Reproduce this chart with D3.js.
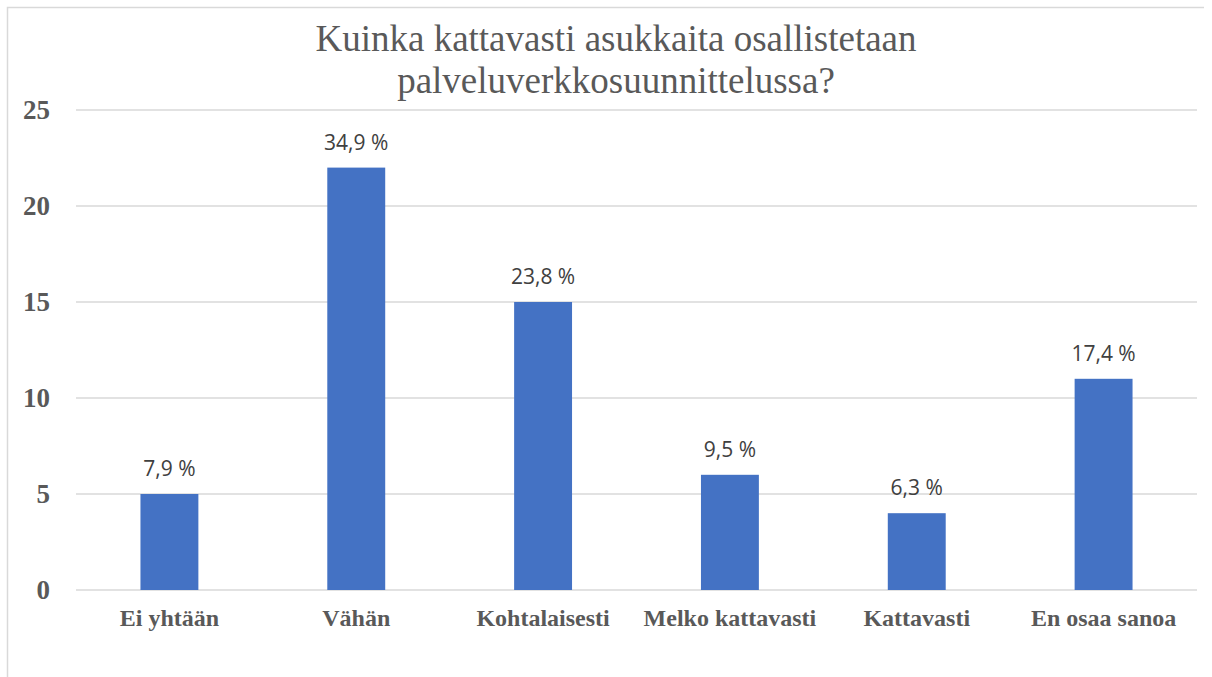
<!DOCTYPE html>
<html><head><meta charset="utf-8">
<script src="https://cdn.jsdelivr.net/npm/d3@7"></script>
<style>body{margin:0;background:#fff}svg{display:block}</style>
</head><body>
<script>
const categories = ["Ei yhtään","Vähän","Kohtalaisesti","Melko kattavasti","Kattavasti","En osaa sanoa"];
const values = [5,22,15,6,4,11];
const percentLabels = ["7,9 %","34,9 %","23,8 %","9,5 %","6,3 %","17,4 %"];
const yTicks = [0,5,10,15,20,25];
const titleLines = ["Kuinka kattavasti asukkaita osallistetaan","palveluverkkosuunnittelussa?"];

const W=1212,H=677;
const m={left:76,right:15,top:110,bottom:87};
const svg=d3.select("body").append("svg").attr("width",W).attr("height",H);

// frame
svg.append("path").attr("d","M7.5,677 V7.5 H1204").attr("fill","none").attr("stroke","#d9d9d9").attr("stroke-width",1.5);

const x=d3.scaleBand().domain(categories).range([m.left,W-m.right]).paddingInner(0.69).paddingOuter(0.345);
const y=d3.scaleLinear().domain([0,25]).range([H-m.bottom,m.top]);

// gridlines
svg.append("g").selectAll("line").data(yTicks).join("line")
 .attr("x1",m.left).attr("x2",W-m.right)
 .attr("y1",d=>y(d)).attr("y2",d=>y(d))
 .attr("stroke","#d9d9d9").attr("stroke-width",1.5);

// y labels
const yAxis=svg.append("g").attr("transform",`translate(${m.left-26},0)`)
 .call(d3.axisLeft(y).tickValues(yTicks).tickSize(0).tickPadding(0));
yAxis.select(".domain").remove();
yAxis.selectAll("text").attr("font-family","'Liberation Serif',serif").attr("font-weight","bold")
 .attr("font-size",27).attr("fill","#595959").attr("dy","0.33em");

// bars
svg.append("g").selectAll("rect").data(values).join("rect")
 .attr("x",(d,i)=>x(categories[i])).attr("width",x.bandwidth())
 .attr("y",d=>y(d)).attr("height",d=>y(0)-y(d)).attr("fill","#4472c4");

// data labels
svg.append("g").selectAll("text").data(values).join("text")
 .attr("x",(d,i)=>x(categories[i])+x.bandwidth()/2).attr("y",d=>y(d)-18)
 .attr("text-anchor","middle").attr("font-family","'Open Sans',sans-serif").attr("font-size",21)
 .attr("fill","#404040").text((d,i)=>percentLabels[i]);

// x labels
const xAxis=svg.append("g").attr("transform",`translate(0,${y(0)})`)
 .call(d3.axisBottom(x).tickSize(0).tickPadding(0));
xAxis.select(".domain").remove();
xAxis.selectAll("text").attr("font-family","'Liberation Serif',serif").attr("font-weight","bold")
 .attr("font-size",24).attr("fill","#595959").attr("dy","0").attr("y",36);

// title
svg.append("text").attr("x",616).attr("y",51).attr("text-anchor","middle")
 .attr("font-family","'Liberation Serif',serif").attr("font-size",37).attr("fill","#595959")
 .selectAll("tspan").data(titleLines).join("tspan").attr("x",616).attr("dy",(d,i)=>i?42:0).text(d=>d);
</script>
</body></html>
